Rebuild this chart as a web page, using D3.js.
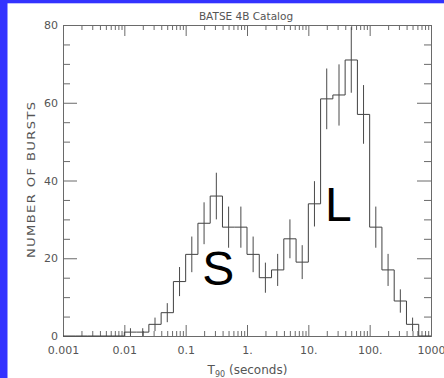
<!DOCTYPE html>
<html>
<head>
<meta charset="utf-8">
<script src="https://cdn.jsdelivr.net/npm/d3@7"></script>
<style>
  html, body { margin: 0; padding: 0; background: #3333ff; }
  svg { display: block; }
</style>
</head>
<body>
<svg id="chart" width="444" height="378"></svg>
<script>
// Duration distribution of gamma-ray bursts (BATSE 4B): histogram in log10(T90) bins.
const title = "BATSE 4B Catalog";
const yLabel = "NUMBER OF BURSTS";

// bin edges in log10(seconds)
const logEdges = [-3.0, -2.8, -2.6, -2.4, -2.2, -2.0, -1.8, -1.6, -1.4, -1.2, -1.0,
                  -0.8, -0.6, -0.4, -0.2, 0.0, 0.2, 0.4, 0.6, 0.8, 1.0,
                  1.2, 1.4, 1.6, 1.8, 2.0, 2.2, 2.4, 2.6, 2.8, 3.0];
// number of bursts in each bin
const counts = [0, 0, 0, 0, 0, 1, 1, 3, 6, 14,
                21, 29, 36, 28, 28, 21, 15, 17, 25, 19,
                34, 61, 62, 71, 57, 28, 17, 9, 3, 0];

const xMajorTicks = [0.001, 0.01, 0.1, 1, 10, 100, 1000];
const xTickLabels = ["0.001", "0.01", "0.1", "1.", "10.", "100.", "1000"];
const yMajorTicks = [0, 20, 40, 60, 80];
const yMinorTicks = [5, 10, 15, 25, 30, 35, 45, 50, 55, 65, 70, 75];

// class labels: short and long bursts
const classLabels = [
  { text: "S", t90: 0.34, n: 13.2 },
  { text: "L", t90: 31, n: 29.5 }
];

(function draw() {
  const svg = d3.select("#chart");
  const W = 444, H = 378;
  const plotL = 63, plotR = 431, plotT = 25, plotB = 336;

  svg.append("rect").attr("x", 7.5).attr("y", 3.3).attr("width", W).attr("height", H)
    .attr("fill", "#ffffff");

  const x = d3.scaleLog().domain([0.001, 1000]).range([plotL, plotR]);
  const y = d3.scaleLinear().domain([0, 80]).range([plotB, plotT]);

  const xMinorTicks = [];
  for (let i = 0; i < xMajorTicks.length - 1; i++) {
    for (let m = 2; m <= 9; m++) xMinorTicks.push(xMajorTicks[i] * m);
  }

  const axisColor = "#6a6a6a";
  const textColor = "#555555";
  const font = "'DejaVu Sans', sans-serif";

  function styleAxis(g) {
    g.selectAll("path, line").attr("stroke", axisColor).attr("stroke-width", 1);
    g.selectAll("text").attr("fill", textColor).attr("font-family", font).attr("font-size", 11);
  }

  // bottom axis
  svg.append("g").attr("transform", `translate(0,${plotB})`)
    .call(d3.axisBottom(x).tickValues(xMinorTicks).tickSizeInner(-5).tickSizeOuter(0).tickFormat(""))
    .call(styleAxis);
  svg.append("g").attr("transform", `translate(0,${plotB})`)
    .call(d3.axisBottom(x).tickValues(xMajorTicks).tickSizeInner(-11).tickSizeOuter(0)
      .tickPadding(10.5).tickFormat((d, i) => xTickLabels[i]))
    .call(styleAxis);

  // top axis
  svg.append("g").attr("transform", `translate(0,${plotT})`)
    .call(d3.axisTop(x).tickValues(xMinorTicks).tickSizeInner(-5).tickSizeOuter(0).tickFormat(""))
    .call(styleAxis);
  svg.append("g").attr("transform", `translate(0,${plotT})`)
    .call(d3.axisTop(x).tickValues(xMajorTicks).tickSizeInner(-11).tickSizeOuter(0).tickFormat(""))
    .call(styleAxis);

  // left axis
  svg.append("g").attr("transform", `translate(${plotL},0)`)
    .call(d3.axisLeft(y).tickValues(yMinorTicks).tickSizeInner(-7).tickSizeOuter(0).tickFormat(""))
    .call(styleAxis);
  svg.append("g").attr("transform", `translate(${plotL},0)`)
    .call(d3.axisLeft(y).tickValues(yMajorTicks).tickSizeInner(-14).tickSizeOuter(0)
      .tickPadding(5).tickFormat(d3.format("d")))
    .call(styleAxis);

  // right axis
  svg.append("g").attr("transform", `translate(${plotR},0)`)
    .call(d3.axisRight(y).tickValues(yMinorTicks).tickSizeInner(-7).tickSizeOuter(0).tickFormat(""))
    .call(styleAxis);
  svg.append("g").attr("transform", `translate(${plotR},0)`)
    .call(d3.axisRight(y).tickValues(yMajorTicks).tickSizeInner(-14).tickSizeOuter(0).tickFormat(""))
    .call(styleAxis);

  // histogram outline (step)
  const bins = counts.map((c, i) => ({
    lo: Math.pow(10, logEdges[i]),
    hi: Math.pow(10, logEdges[i + 1]),
    mid: Math.pow(10, (logEdges[i] + logEdges[i + 1]) / 2),
    n: c
  }));
  const pts = [[x(bins[0].lo), y(0)]];
  bins.forEach(b => { pts.push([x(b.lo), y(b.n)]); pts.push([x(b.hi), y(b.n)]); });
  pts.push([x(bins[bins.length - 1].hi), y(0)]);

  svg.append("path")
    .attr("d", d3.line()(pts))
    .attr("fill", "none")
    .attr("stroke", "#404040")
    .attr("stroke-width", 1);

  // Poisson error bars
  svg.append("g").selectAll("line")
    .data(bins.filter(b => b.n > 0))
    .join("line")
    .attr("x1", b => x(b.mid)).attr("x2", b => x(b.mid))
    .attr("y1", b => y(b.n - Math.sqrt(b.n)))
    .attr("y2", b => y(b.n + Math.sqrt(b.n)))
    .attr("stroke", "#4a4a4a")
    .attr("stroke-width", 1);

  // S / L class labels
  svg.append("g").selectAll("text")
    .data(classLabels)
    .join("text")
    .attr("x", d => x(d.t90))
    .attr("y", d => y(d.n))
    .attr("text-anchor", "middle")
    .attr("font-family", "'Liberation Sans', Arial, sans-serif")
    .attr("font-size", 48)
    .attr("fill", "#000")
    .text(d => d.text);

  // title
  svg.append("text")
    .attr("x", 246).attr("y", 20)
    .attr("text-anchor", "middle")
    .attr("font-family", font).attr("font-size", 10.5)
    .attr("fill", textColor)
    .text(title);

  // y-axis title (wide lettering)
  svg.append("text")
    .attr("transform", "translate(34.5,180) rotate(-90) scale(1.25,1)")
    .attr("text-anchor", "middle")
    .attr("font-family", font).attr("font-size", 10.5)
    .attr("fill", textColor)
    .attr("textLength", 125).attr("lengthAdjust", "spacing")
    .text(yLabel);

  // x-axis title with subscript
  const xt = svg.append("text")
    .attr("x", 247.5).attr("y", 374)
    .attr("text-anchor", "middle")
    .attr("font-family", font).attr("font-size", 12)
    .attr("fill", textColor);
  xt.append("tspan").text("T");
  xt.append("tspan").attr("font-size", 8).attr("dy", 3).text("90");
  xt.append("tspan").attr("dy", -3).text(" (seconds)");
})();
</script>
</body>
</html>
